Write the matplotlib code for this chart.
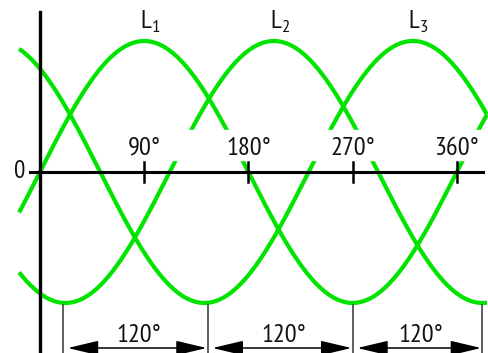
#%%
import numpy as np
import matplotlib.pyplot as plt
from matplotlib.patches import Rectangle

plt.rcParams['font.family'] = ['PT Sans Narrow', 'DejaVu Sans']
plt.rcParams['mathtext.fontset'] = 'custom'
plt.rcParams['mathtext.rm'] = 'PT Sans Narrow'

#%% values

phases = [0, 112, 232]  # phase shift of L1, L2, L3 in degrees
phase_names = ["L$_1$", "L$_2$", "L$_3$"]
tick_deg = [90, 180, 270, 360]
tick_names = ["90°", "180°", "270°", "360°"]
dim_deg = [20, 145, 270, 382]  # troughs where the 120° dimension lines start
dim_name = "120°"

green = "#00e400"

#%% figure, one axes over the whole canvas

fig = plt.figure(figsize=(4.88, 3.53), dpi=100)
ax = fig.add_axes([0, 0, 1, 1])
ax.set_xlim(-34.5, 386.9)
ax.set_ylim(-1.382, 1.313)
ax.axis("off")

theta = np.linspace(-18, 386, 900)
for ph in phases:
    ax.plot(theta, np.sin(np.radians(theta - ph)), color=green, lw=3,
            solid_capstyle="butt", zorder=2)

# white strip behind the tick labels breaks the curves like in the drawing
ax.add_patch(Rectangle((60, 0.092), 330, 0.23, color="white", zorder=3))

# axes
ax.plot([-8.6, 382.5], [0, 0], color="black", lw=2.2, zorder=4)
ax.plot([0, 0], [-1.5, 1.221], color="black", lw=2.4, zorder=4)
for t, name in zip(tick_deg, tick_names):
    ax.plot([t, t], [-0.08, 0.075], color="black", lw=1.8, zorder=4)
    ax.text(t, 0.13, name, ha="center", va="baseline", fontsize=19,
            color="#111111", zorder=5)
ax.text(-13, -0.046, "0", ha="right", va="baseline", fontsize=18,
        color="#111111", zorder=5)

# phase names above the peaks
for ph, name in zip(phases, phase_names):
    ax.text(ph + 90 + 5, 1.099, name, ha="center", va="baseline",
            fontsize=19, color="#111111", zorder=5)

#%% 120° dimension lines at the bottom

y_dim = -1.344
for d in dim_deg:
    ax.plot([d, d], [-1.015, -1.5], color="#333333", lw=1.1, zorder=4)
for a, b in zip(dim_deg[:-1], dim_deg[1:]):
    ax.annotate("", xy=(b - 1, y_dim), xytext=(a + 4, y_dim),
                arrowprops=dict(arrowstyle="<|-|>,head_length=19,head_width=4.5",
                                mutation_scale=1, shrinkA=0, shrinkB=0,
                                color="black", lw=1.1), zorder=4)
    ax.text((a + b) / 2 + 3, -1.298, dim_name, ha="center", va="baseline",
            fontsize=19, color="#111111", zorder=5)

fig.savefig("out.png", dpi=100)
